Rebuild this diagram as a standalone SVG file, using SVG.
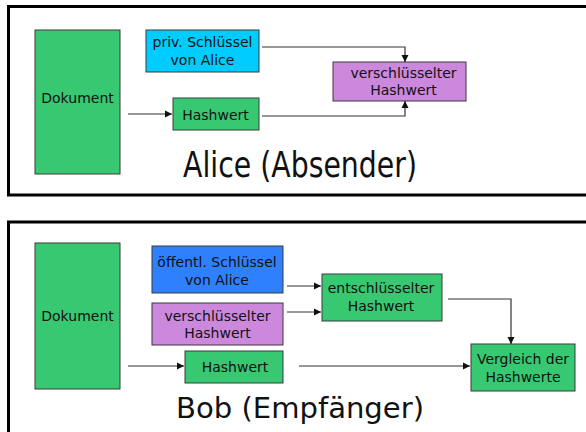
<svg xmlns="http://www.w3.org/2000/svg" width="586" height="432" viewBox="0 0 586 432">
<defs>
<marker id="ah" markerWidth="8" markerHeight="8" refX="7" refY="4" orient="auto" markerUnits="userSpaceOnUse">
<path d="M0,0.5 L7,4 L0,7.5 Z" fill="#111"/>
</marker>
<style>
.frame{fill:#fff;stroke:#000;stroke-width:3}
.box{stroke:#3a3a3a;stroke-width:1}
.g{fill:#38c872}
.p{fill:#cc88dd}
.c{fill:#00ccff}
.b{fill:#2f80ff}
.t{font-family:"DejaVu Sans",Verdana,sans-serif;font-size:14px;fill:#111;text-anchor:middle}
.title{font-family:"DejaVu Sans",Verdana,sans-serif;fill:#111}
.con{fill:none;stroke:#333;stroke-width:1.2;marker-end:url(#ah)}
</style>
</defs>
<rect width="586" height="432" fill="#fff"/>
<rect class="frame" x="8.5" y="6.5" width="600" height="188.5"/>
<rect class="frame" x="8.5" y="222" width="600" height="230"/>

<g id="alice">
<g id="a-dokument"><rect class="box g" x="35" y="30" width="85" height="144"/><text class="t" x="77.5" y="103">Dokument</text></g>
<g id="a-privkey"><rect class="box c" x="146" y="30" width="113" height="42"/><text class="t" x="202.5" y="47">priv. Schlüssel</text><text class="t" x="202.5" y="65">von Alice</text></g>
<g id="a-hash"><rect class="box g" x="173" y="98" width="86" height="32"/><text class="t" x="215.5" y="120">Hashwert</text></g>
<g id="a-enc"><rect class="box p" x="333" y="62" width="133" height="39"/><text class="t" x="403.5" y="78">verschlüsselter</text><text class="t" x="403.5" y="95">Hashwert</text></g>
<text id="a-title" class="title" x="183" y="177" font-size="35" textLength="234" lengthAdjust="spacingAndGlyphs">Alice (Absender)</text>
</g>

<g id="bob">
<g id="b-dokument"><rect class="box g" x="35" y="243" width="85" height="146"/><text class="t" x="77.5" y="321">Dokument</text></g>
<g id="b-pubkey"><rect class="box b" x="152" y="246" width="131" height="47"/><text class="t" x="217" y="267">öffentl. Schlüssel</text><text class="t" x="217" y="285">von Alice</text></g>
<g id="b-enc"><rect class="box p" x="152" y="303" width="131" height="42"/><text class="t" x="217.5" y="320.5">verschlüsselter</text><text class="t" x="217.5" y="337.5">Hashwert</text></g>
<g id="b-hash"><rect class="box g" x="185" y="351" width="98" height="32"/><text class="t" x="235" y="372">Hashwert</text></g>
<g id="b-dec"><rect class="box g" x="322" y="274" width="120" height="47"/><text class="t" x="381" y="293">entschlüsselter</text><text class="t" x="381" y="310.5">Hashwert</text></g>
<g id="b-cmp"><rect class="box g" x="471" y="344" width="104" height="47"/><text class="t" x="523" y="363.5">Vergleich der</text><text class="t" x="523" y="381.5">Hashwerte</text></g>
<text id="b-title" class="title" x="176" y="418" font-size="29" textLength="248" lengthAdjust="spacingAndGlyphs">Bob (Empfänger)</text>
</g>

<g id="connectors">
<path class="con" d="M128,114 H172"/>
<path class="con" d="M262,47 H405 V62"/>
<path class="con" d="M262,116 H405 V101"/>
<path class="con" d="M287,286 H321"/>
<path class="con" d="M287,312 H321"/>
<path class="con" d="M448,299 H511 V344"/>
<path class="con" d="M128,366 H184"/>
<path class="con" d="M299,366 H470"/>
</g>
</svg>
